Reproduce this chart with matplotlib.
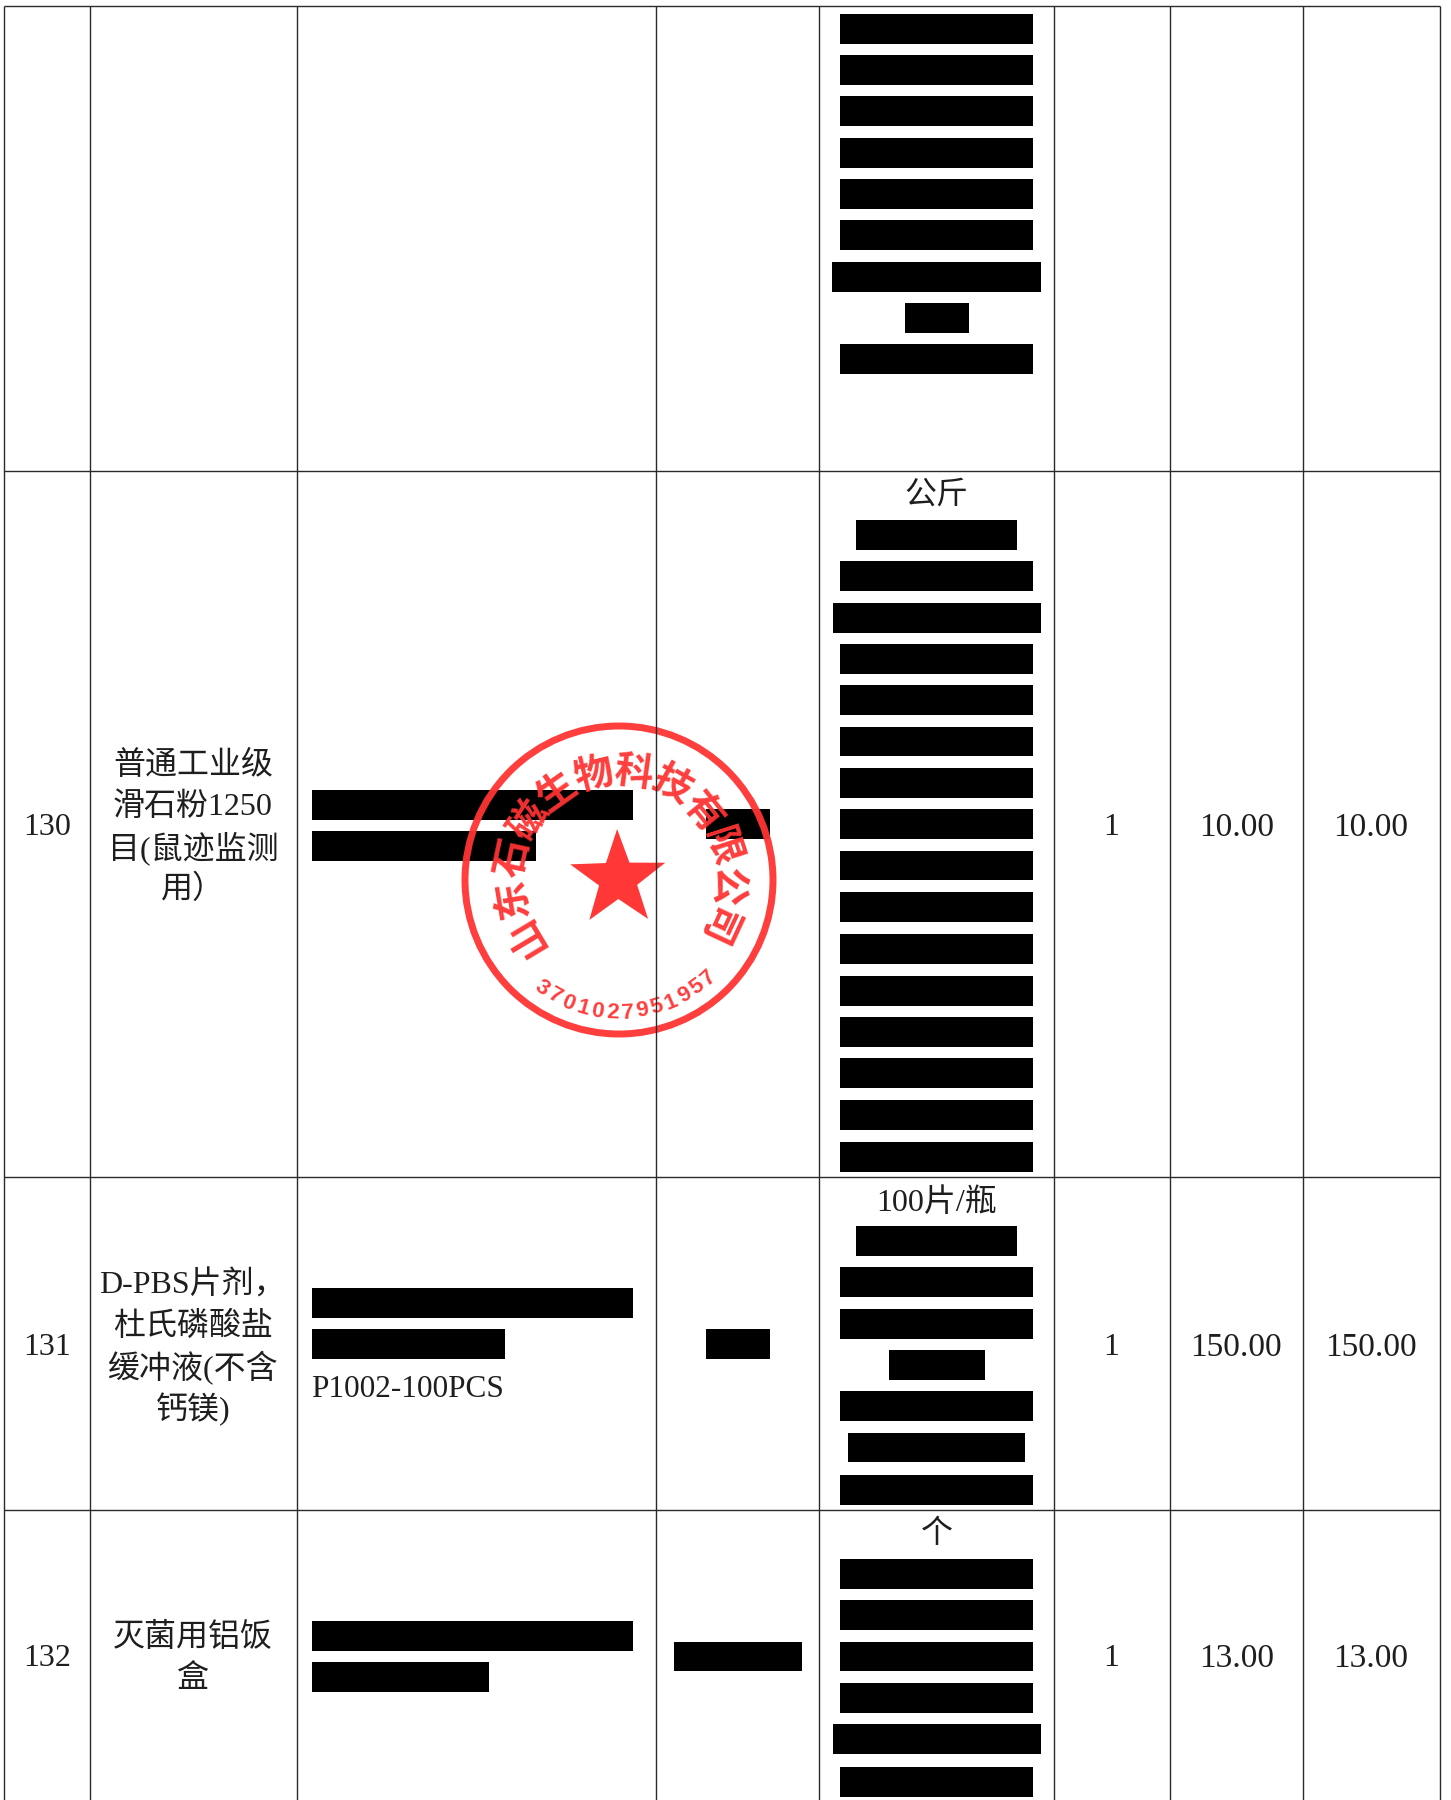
import numpy as np
import matplotlib
matplotlib.use("Agg")
import matplotlib.pyplot as plt
from matplotlib.patches import Circle, Polygon

plt.rcParams['font.family'] = ['Liberation Serif', 'Noto Sans CJK SC', 'DejaVu Sans']

W, H = 1451, 1800
S = W / 1264

col_edges = [3.6, 78.6, 258.8, 571.6, 713.6, 918, 1019, 1135, 1254.6]
row_edges = [5.6, 410.6, 1025.6, 1315.6]

# row text
row_y = [719, 1172, 1443]
row_ids = ['130', '131', '132']
row_names = [
    ['普通工业级', '滑石粉1250', '目(鼠迹监测', '用）'],
    ['D-PBS片剂，', '杜氏磷酸盐', '缓冲液(不含', '钙镁)'],
    ['灭菌用铝饭', '盒'],
]
row_qty = ['1', '1', '1']
row_price = ['10.00', '150.00', '13.00']
row_total = ['10.00', '150.00', '13.00']

unit_labels = ['公斤', '100片/瓶', '个']
unit_y = [430, 1046, 1335]
part_label = 'P1002-100PCS'

# redaction bars: tops and widths
spec_tops = [12, 48, 84, 120, 156, 192, 228, 264, 300,
             453, 489, 525, 561, 597, 633, 669, 705, 741, 777, 814, 850, 886, 922, 958, 995,
             1068, 1104, 1140, 1176, 1212, 1248, 1285,
             1358, 1394, 1430, 1466, 1502, 1539]
spec_widths = [168, 168, 168, 168, 168, 168, 182, 56, 168,
               140, 168, 181, 168, 168, 168, 168, 168, 168, 168, 168, 168, 168, 168, 168, 168,
               140, 168, 168, 84, 168, 154, 168,
               168, 168, 168, 168, 181, 168]
model_tops = [688, 724, 1122, 1158, 1412, 1448]
model_widths = [279, 195, 279, 168, 279, 154]
brand_tops = [705, 1158, 1430]
brand_widths = [56, 56, 112]

seal_chars = list('山东石磁生物科技有限公司')
seal_code = '3701027951957'
seal_color = '#ff3333'

fig = plt.figure(figsize=(W / 100, H / 100), dpi=100)
ax = fig.add_axes([0, 0, 1, 1])
ax.set_xlim(0, W)
ax.set_ylim(H, 0)
ax.axis('off')

BAR_H = 26 * S
spec_c = 816
ax.barh([(t + 13) * S for t in spec_tops], [w * S for w in spec_widths],
        left=[(spec_c - w / 2) * S for w in spec_widths], height=BAR_H, color='black', zorder=2)
ax.barh([(t + 13) * S for t in model_tops], [w * S for w in model_widths],
        left=272 * S, height=BAR_H, color='black', zorder=2)
ax.barh([(t + 13) * S for t in brand_tops], [w * S for w in brand_widths],
        left=[(643 - w / 2) * S for w in brand_widths], height=BAR_H, color='black', zorder=2)

# seal
cx, cy = 619, 880
ax.add_patch(Circle((cx, cy), 154, fill=False, ec=seal_color, lw=5, alpha=0.95, zorder=3))
outer = np.radians(-90 - 1 + 72 * np.arange(5))
inner = outer + np.radians(36)
star = []
for a, b in zip(outer, inner):
    star.append((cx - 1 + 50 * np.cos(a), cy - 1 + 50 * np.sin(a)))
    star.append((cx - 1 + 20 * np.cos(b), cy - 1 + 20 * np.sin(b)))
ax.add_patch(Polygon(star, closed=True, fc=seal_color, ec='none', alpha=0.98, zorder=3))
for a, ch in zip(np.linspace(-121, 115, len(seal_chars)), seal_chars):
    r = np.radians(a)
    ax.text(cx + 108 * np.sin(r), cy - 108 * np.cos(r), ch, rotation=-a, rotation_mode='anchor',
            ha='center', va='center', fontsize=28, fontweight='bold', color=seal_color,
            family=['Noto Sans CJK SC'], alpha=0.95, zorder=3)
for a, ch in zip(np.linspace(-35.4, 42.7, len(seal_code)), seal_code):
    r = np.radians(a)
    ax.text(cx + 133 * np.sin(r), cy + 133 * np.cos(r), ch, rotation=a, rotation_mode='anchor',
            ha='center', va='center', fontsize=16, fontweight='bold', color=seal_color,
            family=['Liberation Sans'], alpha=0.95, zorder=3)

# grid lines
line_c = '#2a2a2a'
ax.vlines([x * S for x in col_edges], row_edges[0] * S, H, color=line_c, lw=1.0, zorder=4)
ax.hlines([y * S for y in row_edges], col_edges[0] * S, col_edges[-1] * S, color=line_c, lw=1.0, zorder=4)

# text
FS = 23
PITCH = 36
DY = 2  # glyphs sit a little high when centred
txt = dict(ha='center', va='center', fontsize=FS, color='#1e1e1e', zorder=5)
num = dict(txt, fontsize=24)
for i, y in enumerate(row_y):
    ax.text(41 * S, (y + DY) * S, row_ids[i], **txt)
    ax.text(968 * S, (y + DY) * S, row_qty[i], **txt)
    ax.text(1077 * S, (y + DY) * S, row_price[i], **num)
    ax.text(1194 * S, (y + DY) * S, row_total[i], **num)
    n = len(row_names[i])
    for j, line in enumerate(row_names[i]):
        ax.text(168 * S, (y + DY + (j - (n - 1) / 2) * PITCH) * S, line, **txt)
for lab, y in zip(unit_labels, unit_y):
    ax.text(spec_c * S, (y + DY) * S, lab, **txt)
ax.text(271 * S, (1208 + DY) * S, part_label, ha='left', va='center', fontsize=22.5, color='#1e1e1e', zorder=5)

fig.savefig('out.png', dpi=100, facecolor='white')
